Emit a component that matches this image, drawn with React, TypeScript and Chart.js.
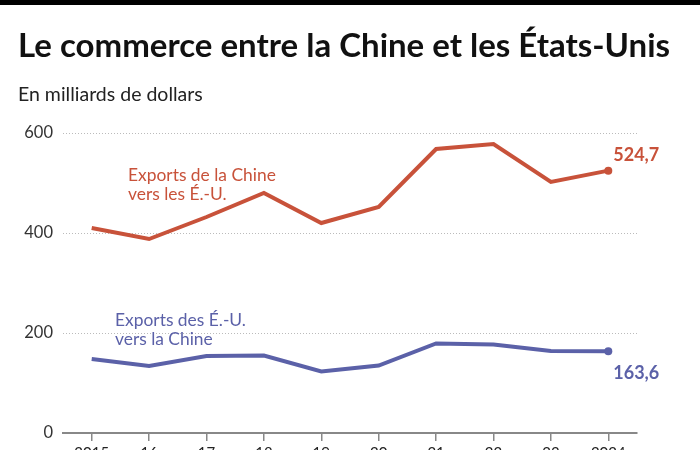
import React, { useEffect, useRef } from "react";
import { Chart, registerables } from "chart.js";
Chart.register(...registerables);

const years = ["2015", "16", "17", "18", "19", "20", "21", "22", "23", "2024"];
const chinaExports = [410, 388, 432, 480, 420, 452, 568, 578, 502, 524.7];
const usExports = [148, 134, 154, 155, 123, 135, 179, 177, 164, 163.6];
const chinaLabel = ["Exports de la Chine", "vers les É.-U."];
const usLabel = ["Exports des É.-U.", "vers la Chine"];
const chinaLast = "524,7";
const usLast = "163,6";
const titleText = "Le commerce entre la Chine et les États-Unis";
const subtitleText = "En milliards de dollars";

const RED = "#c8523a";
const BLUE = "#5b61a8";
const FONT = "Lato, 'Open Sans', sans-serif";

const overlay = {
  id: "overlay",
  beforeDraw(chart: any) {
    const ctx = chart.ctx;
    ctx.save();
    ctx.fillStyle = "#fff";
    ctx.fillRect(0, 0, chart.width, chart.height);
    ctx.fillStyle = "#000";
    ctx.fillRect(0, 0, chart.width, 5);
    ctx.textAlign = "left";
    ctx.textBaseline = "alphabetic";
    ctx.fillStyle = "#111";
    ctx.font = `bold 33px ${FONT}`;
    ctx.fillText(titleText, 18, 57, 662);
    ctx.fillStyle = "#222";
    ctx.font = `19.5px ${FONT}`;
    ctx.fillText(subtitleText, 18, 101);
    ctx.restore();
  },
  afterDatasetsDraw(chart: any) {
    const ctx = chart.ctx;
    ctx.save();
    ctx.textAlign = "left";
    ctx.textBaseline = "alphabetic";
    ctx.font = `17.4px ${FONT}`;
    ctx.fillStyle = RED;
    ctx.fillText(chinaLabel[0], 128, 181);
    ctx.fillText(chinaLabel[1], 128, 200);
    ctx.fillStyle = BLUE;
    ctx.fillText(usLabel[0], 115, 326);
    ctx.fillText(usLabel[1], 115, 345);
    const p0 = chart.getDatasetMeta(0).data[years.length - 1];
    const p1 = chart.getDatasetMeta(1).data[years.length - 1];
    ctx.font = `bold 18px ${FONT}`;
    ctx.fillStyle = RED;
    ctx.fillText(chinaLast, p0.x + 5, p0.y - 10);
    ctx.fillStyle = BLUE;
    ctx.fillText(usLast, p1.x + 5, p1.y + 28);
    ctx.restore();
  },
};

export default function App() {
  const ref = useRef<HTMLCanvasElement>(null);
  useEffect(() => {
    if (!ref.current) return;
    const lastOnly = (n: number) => years.map((_, i) => (i === n - 1 ? 4 : 0));
    const chart = new Chart(ref.current, {
      type: "line",
      data: {
        labels: years,
        datasets: [
          {
            data: chinaExports,
            borderColor: RED,
            backgroundColor: RED,
            borderWidth: 4,
            pointRadius: lastOnly(years.length),
            pointBorderWidth: 0,
            tension: 0,
          },
          {
            data: usExports,
            borderColor: BLUE,
            backgroundColor: BLUE,
            borderWidth: 4,
            pointRadius: lastOnly(years.length),
            pointBorderWidth: 0,
            tension: 0,
          },
        ],
      },
      options: {
        responsive: false,
        animation: false,
        devicePixelRatio: 1,
        layout: { padding: { top: 133, left: 0, right: 63, bottom: 7 } },
        plugins: { legend: { display: false }, tooltip: { enabled: false }, title: { display: false } },
        scales: {
          x: {
            offset: true,
            grid: {
              drawOnChartArea: false,
              drawTicks: true,
              tickLength: 8,
              color: "#888",
              lineWidth: 1.5,
              offset: false,
            },
            border: { display: true, color: "#888", width: 2 },
            ticks: { color: "#222", font: { size: 15, family: FONT }, padding: 3, maxRotation: 0, autoSkip: false },
            afterFit: (s: any) => { s.height = 30; },
          },
          y: {
            min: 0,
            max: 600,
            ticks: { stepSize: 200, color: "#333", font: { size: 16.5, family: FONT }, padding: 10 },
            grid: { color: "#bbb", lineWidth: 1, drawTicks: false },
            border: { display: false, dash: [1, 2] },
            afterFit: (s: any) => { s.width = 63; },
          },
        },
      },
      plugins: [overlay],
    } as any);
    return () => chart.destroy();
  }, []);
  return (
    <div style={{ position: "fixed", top: 0, left: 0, width: 700, height: 470, background: "#fff" }}>
      <canvas ref={ref} width={700} height={470} style={{ display: "block" }} />
    </div>
  );
}
